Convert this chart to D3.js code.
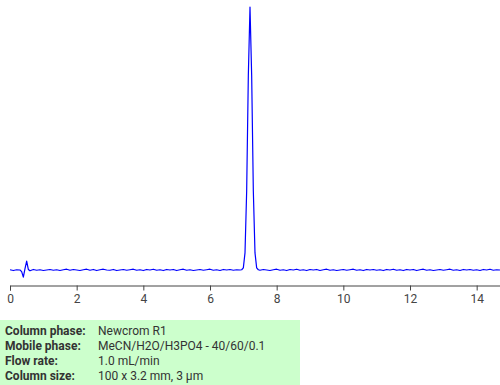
<!DOCTYPE html>
<html>
<head>
<meta charset="utf-8">
<script src="https://cdn.jsdelivr.net/npm/d3@7"></script>
<style>
  html, body { margin: 0; padding: 0; background: #fff; }
  svg { display: block; font-family: Roboto, "Noto Sans", sans-serif; }
</style>
</head>
<body>
<svg id="chart" width="500" height="385"></svg>
<script>
// Retention times (min)
const times = [
  0.0, 0.1, 0.2, 0.3, 0.35, 0.4, 0.45, 0.5, 0.55, 0.6,
  0.7, 0.8, 0.9, 1.0, 1.1, 1.2, 1.3, 1.4, 1.5, 1.6, 1.7, 1.8, 1.9,
  2.0, 2.1, 2.2, 2.3, 2.4, 2.5, 2.6, 2.7, 2.8, 2.9,
  3.0, 3.1, 3.2, 3.3, 3.4, 3.5, 3.6, 3.7, 3.8, 3.9,
  4.0, 4.1, 4.2, 4.3, 4.4, 4.5, 4.6, 4.7, 4.8, 4.9,
  5.0, 5.1, 5.2, 5.3, 5.4, 5.5, 5.6, 5.7, 5.8, 5.9,
  6.0, 6.1, 6.2, 6.3, 6.4, 6.5, 6.6, 6.7, 6.8, 6.9,
  6.95, 7.0, 7.05, 7.1, 7.15, 7.2, 7.25, 7.3, 7.35, 7.4, 7.45, 7.5,
  7.6, 7.7, 7.8, 7.9,
  8.0, 8.1, 8.2, 8.3, 8.4, 8.5, 8.6, 8.7, 8.8, 8.9,
  9.0, 9.1, 9.2, 9.3, 9.4, 9.5, 9.6, 9.7, 9.8, 9.9,
  10.0, 10.1, 10.2, 10.3, 10.4, 10.5, 10.6, 10.7, 10.8, 10.9,
  11.0, 11.1, 11.2, 11.3, 11.4, 11.5, 11.6, 11.7, 11.8, 11.9,
  12.0, 12.1, 12.2, 12.3, 12.4, 12.5, 12.6, 12.7, 12.8, 12.9,
  13.0, 13.1, 13.2, 13.3, 13.4, 13.5, 13.6, 13.7, 13.8, 13.9,
  14.0, 14.1, 14.2, 14.3, 14.4, 14.5, 14.6, 14.7
];
// Detector signal (relative units)
const signal = [
  0.1, -0.2, 0.1, 0.0, -0.6, -2.7, 0.5, 3.4, 0.2, -0.3,
  0.2, -0.1, 0.1, -0.2, 0.0, 0.2, -0.1, 0.1, -0.2, 0.1, 0.3, -0.1, 0.2,
  0.0, -0.2, 0.1, 0.3, -0.1, 0.2, -0.2, 0.1, 0.3, 0.0,
  -0.1, 0.2, -0.2, 0.0, 0.2, -0.1, 0.1, 0.3, -0.1, 0.1,
  -0.2, 0.2, 0.0, 0.3, -0.1, 0.1, -0.2, 0.2, 0.0, 0.2,
  -0.2, 0.1, 0.3, -0.1, 0.1, -0.2, 0.0, 0.2, -0.1, 0.1,
  0.3, -0.1, 0.1, -0.2, 0.2, 0.0, 0.2, -0.1, 0.1, 0.0,
  0.1, 0.8, 6.5, 30, 74, 100, 74, 30, 6.5, 0.8, 0.1, -0.1,
  0.2, 0.0, -0.2, 0.1,
  0.3, -0.1, 0.1, -0.2, 0.2, 0.0, 0.3, -0.1, 0.1, -0.2,
  0.2, 0.0, 0.2, -0.2, 0.1, 0.3, -0.1, 0.1, -0.2, 0.0,
  0.2, -0.1, 0.1, 0.3, -0.1, 0.1, -0.2, 0.2, 0.0, 0.2,
  -0.1, 0.1, -0.2, 0.2, 0.0, 0.3, -0.1, 0.1, -0.2, 0.2,
  0.0, 0.2, -0.2, 0.1, 0.3, -0.1, 0.1, -0.2, 0.0, 0.2,
  -0.1, 0.1, 0.3, -0.1, 0.1, -0.2, 0.2, 0.0, 0.2, -0.1,
  0.1, -0.2, 0.2, 0.0, 0.3, -0.1, 0.1, 0.0
];
const xTicks = [0, 2, 4, 6, 8, 10, 12, 14];
const infoLabels = ["Column phase:", "Mobile phase:", "Flow rate:", "Column size:"];
const infoValues = ["Newcrom R1", "MeCN/H2O/H3PO4 - 40/60/0.1", "1.0 mL/min", "100 x 3.2 mm, 3 µm"];

const svg = d3.select("#chart");
const x = d3.scaleLinear().domain([0, 14.7]).range([10, 500]);
const y = d3.scaleLinear().domain([0, 100]).range([270, 7]);

const line = d3.line().x((d, i) => x(times[i])).y(d => y(d));
svg.append("path")
  .datum(signal)
  .attr("d", line)
  .attr("fill", "none")
  .attr("stroke", "#0000ff")
  .attr("stroke-width", 1.2)
  .attr("stroke-linejoin", "round");

const axis = d3.axisBottom(x).tickValues(xTicks).tickSizeOuter(0).tickSize(5).tickFormat(d3.format("d"));
const g = svg.append("g").attr("transform", "translate(0,285.5)").call(axis);
g.select(".domain").attr("stroke", "#444");
g.selectAll(".tick line").attr("stroke", "#444");
g.selectAll(".tick text").attr("fill", "#444").attr("font-size", 12).attr("font-family", "Roboto, sans-serif").attr("dy", "0.8em");

// Info box
svg.append("rect").attr("x", 0).attr("y", 320).attr("width", 300).attr("height", 65).attr("fill", "#ccffcc");
const rows = svg.append("g");
infoLabels.forEach((lab, i) => {
  const yy = 334.5 + i * 15.3;
  rows.append("text").attr("x", 5).attr("y", yy).text(lab)
    .attr("font-size", 12).attr("font-weight", "bold").attr("fill", "#333");
  rows.append("text").attr("x", 98).attr("y", yy).text(infoValues[i])
    .attr("font-size", 12).attr("fill", "#333");
});
</script>
</body>
</html>
